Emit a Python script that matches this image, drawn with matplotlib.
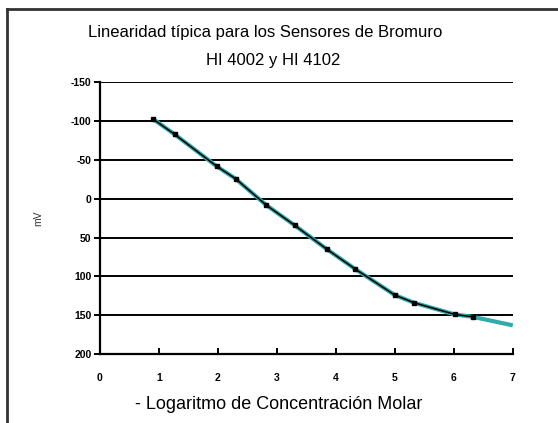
import numpy as np
import matplotlib.pyplot as plt

# measured points (log conc vs mV)
log_conc = [0.9, 1.27, 1.98, 2.3, 2.82, 3.3, 3.85, 4.32, 5.0, 5.33, 6.02, 6.32]
mv = [-103, -83, -42, -26, 8, 34, 65, 90, 124, 134, 149, 152]

# fitted curve extends to the axis end
fit_x = log_conc + [7.0]
fit_y = mv + [163]

y_ticks = [-150, -100, -50, 0, 50, 100, 150, 200]
x_ticks = [0, 1, 2, 3, 4, 5, 6, 7]

plt.rcParams['font.family'] = ['Liberation Sans', 'DejaVu Sans']
plt.rcParams['axes.unicode_minus'] = False

fig = plt.figure(figsize=(5.58, 4.23), dpi=100)
ax = fig.add_axes([0.179, 0.163, 0.740, 0.642])

# horizontal grid lines at each y tick
for t in y_ticks:
    ax.axhline(t, color='black', linewidth=1.4, zorder=1)

ax.plot(fit_x, fit_y, color='#30aaaa', linewidth=3.0, solid_capstyle='butt', zorder=2)
ax.plot(log_conc, mv, color='black', linewidth=1.1, marker='s', markersize=3.5, zorder=3)

ax.set_xlim(0, 7)
ax.set_ylim(200, -150)
ax.set_xticks(x_ticks)
ax.set_yticks(y_ticks)
ax.tick_params(axis='x', direction='in', length=4, width=1.4, pad=14, labelsize=7.5)
ax.tick_params(axis='y', direction='out', length=4, width=1.4, pad=2, labelsize=7.5)
for lab in ax.get_xticklabels() + ax.get_yticklabels():
    lab.set_fontweight('bold')

for s in ['top', 'right']:
    ax.spines[s].set_visible(False)
for s in ['left', 'bottom']:
    ax.spines[s].set_linewidth(1.6)

ax.set_ylabel('mV', fontsize=7.5, color='#333333', labelpad=20)

fig.text(0.500, 0.043, '- Logaritmo de Concentración Molar', ha='center', va='center', fontsize=13)
fig.text(0.476, 0.922, 'Linearidad típica para los Sensores de Bromuro',
         ha='center', va='center', fontsize=12)
fig.text(0.489, 0.858, 'HI 4002 y HI 4102', ha='center', va='center', fontsize=12)

# outer frame (only top and left visible in the crop)
fig.add_artist(plt.Line2D([0.013, 1.0], [0.978, 0.978], color='#333333', linewidth=2, transform=fig.transFigure))
fig.add_artist(plt.Line2D([0.013, 0.013], [0.0, 0.978], color='#333333', linewidth=2, transform=fig.transFigure))

fig.savefig('out.png', dpi=100)
